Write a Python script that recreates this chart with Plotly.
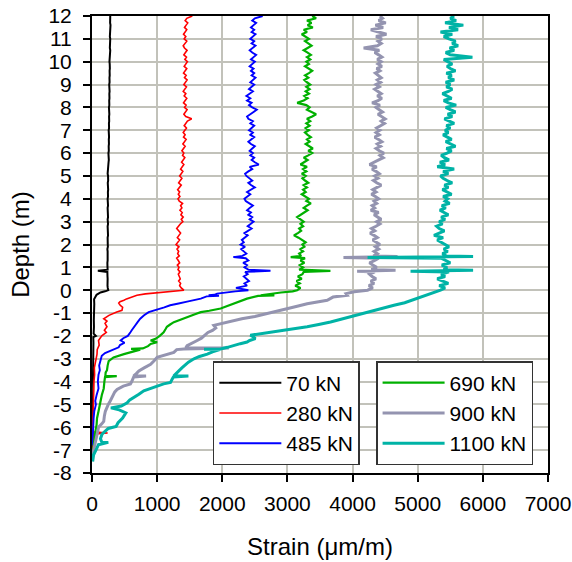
import plotly.graph_objects as go

# ---------------- data ----------------
series_names = ["70 kN", "280 kN", "485 kN", "690 kN", "900 kN", "1100 kN"]
series_colors = ["#000000", "#ff0000", "#0000ff", "#00b000", "#9494b0", "#00b3a6"]
series_widths = [2.0, 1.6, 1.9, 2.2, 3.0, 3.0]
series_legend = ["legend", "legend", "legend", "legend2", "legend2", "legend2"]

x_ticks = [0, 1000, 2000, 3000, 4000, 5000, 6000, 7000]
y_ticks = [-8, -7, -6, -5, -4, -3, -2, -1, 0, 1, 2, 3, 4, 5, 6, 7, 8, 9, 10, 11, 12]

# depth grid of the pile section above depth 0 (m)
depth_upper = [
    0.0, 0.1, 0.2, 0.3, 0.4, 0.5, 0.6, 0.7, 0.8, 0.9,
    1.0, 1.1, 1.2, 1.3, 1.4, 1.5, 1.6, 1.7, 1.8, 1.9,
    2.0, 2.1, 2.2, 2.3, 2.4, 2.5, 2.6, 2.7, 2.8, 2.9,
    3.0, 3.1, 3.2, 3.3, 3.4, 3.5, 3.6, 3.7, 3.8, 3.9,
    4.0, 4.1, 4.2, 4.3, 4.4, 4.5, 4.6, 4.7, 4.8, 4.9,
    5.0, 5.1, 5.2, 5.3, 5.4, 5.5, 5.6, 5.7, 5.8, 5.9,
    6.0, 6.1, 6.2, 6.3, 6.4, 6.5, 6.6, 6.7, 6.8, 6.9,
    7.0, 7.1, 7.2, 7.3, 7.4, 7.5, 7.6, 7.7, 7.8, 7.9,
    8.0, 8.1, 8.2, 8.3, 8.4, 8.5, 8.6, 8.7, 8.8, 8.9,
    9.0, 9.1, 9.2, 9.3, 9.4, 9.5, 9.6, 9.7, 9.8, 9.9,
    10.0, 10.1, 10.2, 10.3, 10.4, 10.5, 10.6, 10.7, 10.8, 10.9,
    11.0, 11.1, 11.2, 11.3, 11.4, 11.5, 11.6, 11.7, 11.8, 11.9,
    12.0,
]

strain_70_upper = [
    250, 242, 238, 240, 236, 240, 238, 242, 236, 240,
    238, 242, 236, 240, 244, 238, 242, 240, 236, 244,
    242, 238, 244, 240, 246, 242, 238, 244, 240, 246,
    244, 240, 246, 242, 248, 244, 240, 246, 250, 244,
    240, 246, 250, 244, 248, 252, 246, 242, 248, 252,
    246, 240, 248, 252, 256, 250, 254, 258, 262, 256,
    252, 258, 262, 256, 260, 264, 258, 262, 266, 260,
    256, 262, 266, 260, 264, 268, 262, 266, 270, 264,
    260, 266, 270, 264, 268, 272, 266, 270, 274, 268,
    264, 270, 274, 268, 272, 276, 270, 274, 278, 272,
    268, 274, 278, 272, 276, 280, 274, 278, 272, 276,
    280, 274, 278, 282, 276, 280, 284, 278, 282, 276,
    280,
]
strain_280_upper = [
    1410, 1370, 1345, 1360, 1330, 1355, 1340, 1325, 1350, 1320,
    1335, 1310, 1345, 1325, 1300, 1340, 1315, 1330, 1305, 1335,
    1290, 1320, 1345, 1310, 1335, 1360, 1330, 1300, 1320, 1355,
    1395, 1370, 1400, 1365, 1385, 1350, 1380, 1360, 1390, 1340,
    1320, 1350, 1325, 1345, 1315, 1340, 1370, 1330, 1355, 1380,
    1345, 1370, 1395, 1360, 1385, 1410, 1375, 1400, 1425, 1390,
    1410, 1380, 1405, 1430, 1395, 1420, 1445, 1405, 1430, 1400,
    1425, 1450, 1415, 1440, 1465, 1530, 1440, 1410, 1435, 1460,
    1420, 1445, 1405, 1430, 1455, 1415, 1440, 1400, 1425, 1450,
    1410, 1435, 1460, 1420, 1445, 1405, 1430, 1455, 1415, 1440,
    1465, 1425, 1450, 1410, 1435, 1460, 1420, 1400, 1430, 1455,
    1415, 1440, 1405, 1430, 1455, 1420, 1445, 1470, 1430, 1455,
    1540,
]
strain_485_upper = [
    2400, 2210, 2380, 2340, 2410, 2370, 2330, 2390, 2350, 2400,
    2340, 2380, 2320, 2400, 2360, 2310, 2370, 2330, 2290, 2350,
    2280, 2330, 2300, 2350, 2390, 2340, 2400, 2450, 2390, 2430,
    2480, 2420, 2460, 2400, 2440, 2380, 2420, 2470, 2410, 2360,
    2340, 2390, 2430, 2380, 2450, 2500, 2440, 2400, 2460, 2410,
    2370, 2350, 2400, 2460, 2420, 2560, 2500, 2450, 2490, 2430,
    2470, 2420, 2460, 2500, 2440, 2400, 2450, 2490, 2430, 2470,
    2410, 2450, 2490, 2430, 2470, 2400, 2380, 2430, 2480, 2530,
    2460, 2410, 2450, 2380, 2430, 2370, 2420, 2470, 2410, 2450,
    2490, 2430, 2470, 2510, 2450, 2490, 2440, 2480, 2420, 2460,
    2500, 2440, 2480, 2520, 2460, 2420, 2470, 2510, 2450, 2490,
    2430, 2470, 2510, 2450, 2490, 2440, 2480, 2520, 2460, 2500,
    2620,
]
strain_690_upper = [
    3150, 3200, 3120, 3190, 3140, 3220, 3160, 3230, 3250, 3180,
    3240, 3190, 3260, 3200, 3270, 3210, 3180, 3240, 3200, 3260,
    3230, 3280, 3220, 3170, 3100, 3160, 3210, 3180, 3240, 3200,
    3250, 3200, 3150, 3190, 3260, 3310, 3250, 3300, 3360, 3290,
    3330, 3270, 3220, 3280, 3240, 3300, 3250, 3320, 3270, 3230,
    3280, 3220, 3290, 3240, 3300, 3200, 3260, 3310, 3250, 3320,
    3380, 3320, 3390, 3330, 3280, 3340, 3300, 3360, 3310, 3270,
    3330, 3280, 3340, 3290, 3350, 3300, 3380, 3440, 3360, 3300,
    3340, 3290, 3150, 3250, 3310, 3260, 3330, 3280, 3340, 3290,
    3350, 3300, 3260, 3320, 3270, 3330, 3380, 3320, 3270, 3330,
    3290, 3350, 3300, 3360, 3310, 3250, 3310, 3370, 3320, 3270,
    3330, 3280, 3220, 3300, 3250, 3390, 3310, 3370, 3300, 3440,
    3380,
]
strain_900_upper = [
    4230, 4310, 4250, 4330, 4280, 4360, 4300, 4260, 4340, 4290,
    4370, 4310, 4260, 4340, 4400, 4320, 4380, 4330, 4400, 4350,
    4420, 4360, 4310, 4380, 4330, 4270, 4340, 4290, 4360, 4420,
    4370, 4440, 4390, 4330, 4400, 4280, 4340, 4300, 4370, 4330,
    4400, 4350, 4290, 4360, 4310, 4380, 4440, 4370, 4320, 4390,
    4340, 4410, 4360, 4300, 4370, 4260, 4330, 4400, 4470, 4420,
    4480, 4410, 4360, 4430, 4380, 4450, 4400, 4340, 4410, 4360,
    4420, 4370, 4430, 4490, 4440, 4500, 4450, 4390, 4460, 4410,
    4360, 4420, 4300, 4390, 4450, 4380, 4440, 4390, 4340, 4410,
    4360, 4430, 4380, 4440, 4400, 4350, 4420, 4370, 4450, 4390,
    4440, 4380, 4450, 4400, 4340, 4410, 4170, 4380, 4440, 4390,
    4450, 4360, 4520, 4400, 4280, 4470, 4350, 4510, 4400, 4460,
    4420,
]
strain_1100_upper = [
    5350, 5420, 5330, 5470, 5380, 5300, 5420, 5360, 5480, 5400,
    5450, 5370, 5500, 5420, 5360, 5440, 5380, 5460, 5400, 5480,
    5430, 5360, 5300, 5390, 5250, 5340, 5410, 5330, 5290, 5380,
    5330, 5420, 5360, 5470, 5400, 5340, 5430, 5370, 5490, 5420,
    5460, 5390, 5520, 5440, 5380, 5470, 5410, 5530, 5450, 5390,
    5350, 5470, 5390, 5560, 5300, 5420, 5340, 5480, 5410, 5360,
    5450, 5520, 5440, 5580, 5500, 5430, 5520, 5460, 5390, 5470,
    5420, 5500, 5440, 5560, 5480, 5410, 5530, 5460, 5580, 5500,
    5430, 5590, 5470, 5400, 5520, 5450, 5380, 5470, 5530, 5440,
    5500, 5430, 5560, 5470, 5520, 5440, 5580, 5500, 5450, 5530,
    5460, 5400, 5840, 5500, 5430, 5560, 5490, 5620, 5530, 5580,
    5480, 5400, 5530, 5350, 5620, 5480, 5700, 5420, 5590, 5500,
    5560,
]

# isolated spikes above depth 0 (depth m, strain)
spikes_70_depth = [0.85]
spikes_70_strain = [90]
spikes_280_depth = []
spikes_280_strain = []
spikes_485_depth = [0.85, 1.45]
spikes_485_strain = [2740, 2170]
spikes_690_depth = [0.85, 1.45]
spikes_690_strain = [3660, 3050]
spikes_900_depth = [0.83, 0.87, 1.43, 1.47]
spikes_900_strain = [4070, 4660, 3860, 4690]
spikes_1100_depth = [0.83, 0.87, 1.43, 1.47]
spikes_1100_strain = [4890, 5850, 4230, 5850]

# section below depth 0 (depth m, strain)
lower_70_depth = [-0.05, -0.1, -0.2, -0.3, -0.4, -0.6, -0.8, -1.0, -1.3, -1.6, -1.9, -2.0, -2.05,
                  -2.3, -2.8, -3.3, -3.8, -4.3, -4.8, -5.3, -5.8, -6.3, -6.8, -7.3]
lower_70_strain = [200, 130, 70, 45, 32, 35, 30, 32, 28, 30, 25, 60, 20,
                   22, 18, 20, 15, 18, 12, 15, 10, 12, 8, 10]

lower_280_depth = [-0.05, -0.1, -0.16, -0.22, -0.3, -0.38, -0.44, -0.5, -0.56, -0.65, -0.75, -0.88,
                   -0.95, -1.0, -1.1, -1.25, -1.35, -1.45, -1.6, -1.75, -1.85, -2.0, -2.1, -2.2,
                   -2.4, -2.6, -2.8, -3.0, -3.2, -3.4, -3.7, -4.0, -4.5, -5.0, -5.5, -6.0, -6.2,
                   -6.25, -6.3, -6.6, -7.0]
lower_280_strain = [1200, 1000, 820, 690, 600, 530, 490, 430, 410, 430, 470, 460,
                    380, 330, 260, 180, 230, 200, 230, 190, 220, 150, 120, 100,
                    110, 80, 77, 60, 50, 36, 40, 30, 25, 20, 15, 10, 20,
                    240, 15, 8, 5]

lower_485_depth = [-0.05, -0.1, -0.15, -0.2, -0.22, -0.24, -0.27, -0.37, -0.45, -0.5, -0.58, -0.66,
                   -0.75, -0.8, -0.9, -0.96, -1.1, -1.25, -1.4, -1.6, -1.75, -1.84, -2.0, -2.1,
                   -2.2, -2.3, -2.4, -2.5, -2.6, -2.65, -2.75, -2.87, -3.0, -3.1, -3.3, -3.5,
                   -3.7, -4.0, -4.3, -4.6, -4.85, -5.0, -5.3, -5.6, -6.0, -6.3, -6.8]
lower_485_strain = [2200, 2030, 1920, 1880, 1790, 1950, 1760, 1670, 1560, 1460, 1330, 1200,
                    1110, 1050, 920, 870, 800, 740, 700, 640, 610, 590, 550, 480,
                    440, 500, 430, 410, 330, 280, 200, 150, 140, 130, 110, 120,
                    100, 90, 100, 70, 50, 60, 35, 25, 15, 10, 5]

lower_690_depth = [-0.05, -0.1, -0.15, -0.2, -0.22, -0.23, -0.25, -0.37, -0.45, -0.59, -0.7, -0.8,
                   -0.9, -0.96, -1.05, -1.18, -1.3, -1.4, -1.5, -1.6, -1.7, -1.84, -2.0, -2.13,
                   -2.2, -2.28, -2.35, -2.45, -2.55, -2.57, -2.6, -2.7, -2.8, -2.94, -3.1, -3.3,
                   -3.5, -3.6, -3.75, -3.76, -3.8, -4.0, -4.3, -4.6, -5.0, -5.3, -5.6, -5.9,
                   -6.2, -6.5, -6.8, -7.2]
lower_690_strain = [3080, 2900, 2740, 2650, 2590, 2800, 2550, 2380, 2300, 2180, 2080, 1975,
                    1800, 1670, 1580, 1460, 1350, 1256, 1200, 1150, 1130, 1100, 1040, 975,
                    900, 1000, 900, 860, 780, 600, 740, 600, 490, 330, 256, 240,
                    230, 210, 205, 380, 200, 190, 180, 150, 128, 100, 77, 70,
                    51, 40, 25, 10]

lower_900_depth = [-0.07, -0.15, -0.22, -0.3, -0.44, -0.59, -0.7, -0.81, -0.9, -1.03, -1.15, -1.25,
                   -1.4, -1.54, -1.65, -1.76, -1.85, -2.0, -2.1, -2.2, -2.3, -2.43, -2.52, -2.53,
                   -2.57, -2.6, -2.72, -2.85, -2.94, -3.1, -3.24, -3.4, -3.53, -3.65, -3.75, -3.76,
                   -3.8, -4.0, -4.1, -4.2, -4.34, -4.45, -4.56, -4.7, -4.85, -5.0, -5.3, -5.5,
                   -5.74, -5.85, -6.0, -6.15, -6.3, -6.6, -6.9, -7.2]
lower_900_strain = [4025, 3900, 3918, 3700, 3610, 3303, 3150, 2995, 2850, 2687, 2500, 2300,
                    2050, 1870, 1900, 1850, 1780, 1720, 1680, 1615, 1540, 1460, 1440, 2100,
                    1410, 1300, 1256, 1100, 1000, 950, 900, 800, 720, 680, 640, 830,
                    640, 610, 590, 480, 385, 350, 333, 300, 280, 250, 205, 190,
                    180, 150, 100, 90, 77, 50, 25, 10]

lower_1100_depth = [-0.1, -0.22, -0.3, -0.44, -0.55, -0.66, -0.78, -0.88, -1.0, -1.17, -1.28, -1.39,
                    -1.5, -1.6, -1.75, -1.9, -1.97, -2.05, -2.12, -2.2, -2.27, -2.34, -2.43, -2.5,
                    -2.57, -2.58, -2.6, -2.7, -2.8, -2.9, -3.0, -3.15, -3.3, -3.4, -3.53, -3.65,
                    -3.75, -3.76, -3.8, -3.9, -4.04, -4.1, -4.2, -4.3, -4.4, -4.55, -4.7, -4.8,
                    -4.93, -5.07, -5.15, -5.22, -5.37, -5.6, -5.8, -5.96, -6.05, -6.2, -6.3, -6.5,
                    -6.65, -6.66, -6.76, -7.0, -7.2, -7.4, -7.5]
lower_1100_strain = [5250, 5149, 5050, 4944, 4800, 4636, 4480, 4328, 4150, 3969, 3800, 3662,
                     3480, 3303, 2944, 2585, 2431, 2480, 2508, 2420, 2380, 2277, 2180, 2080,
                     1975, 1720, 1960, 1850, 1770, 1650, 1565, 1480, 1410, 1380, 1333, 1290,
                     1256, 1480, 1250, 1230, 1205, 1100, 1000, 900, 795, 720, 640, 580,
                     540, 450, 290, 400, 520, 470, 400, 370, 250, 190, 154, 130,
                     150, 250, 100, 60, 25, 15, 10]

# ---------------- build profiles ----------------
uppers = [strain_70_upper, strain_280_upper, strain_485_upper,
          strain_690_upper, strain_900_upper, strain_1100_upper]
spike_d = [spikes_70_depth, spikes_280_depth, spikes_485_depth,
           spikes_690_depth, spikes_900_depth, spikes_1100_depth]
spike_s = [spikes_70_strain, spikes_280_strain, spikes_485_strain,
           spikes_690_strain, spikes_900_strain, spikes_1100_strain]
lower_d = [lower_70_depth, lower_280_depth, lower_485_depth,
           lower_690_depth, lower_900_depth, lower_1100_depth]
lower_s = [lower_70_strain, lower_280_strain, lower_485_strain,
           lower_690_strain, lower_900_strain, lower_1100_strain]

fig = go.Figure()
for i, name in enumerate(series_names):
    pts = list(zip(depth_upper, uppers[i])) + list(zip(spike_d[i], spike_s[i])) \
        + list(zip(lower_d[i], lower_s[i]))
    pts.sort(key=lambda p: -p[0])
    fig.add_trace(go.Scatter(
        x=[p[1] for p in pts], y=[p[0] for p in pts],
        mode="lines", name=name, legend=series_legend[i],
        line=dict(color=series_colors[i], width=series_widths[i]),
        hoverinfo="skip",
    ))

font_family = "Liberation Sans, Arial, sans-serif"
grid_color = "#c2c2ba"

legend_common = dict(
    xanchor="left", yanchor="top",
    bgcolor="white", bordercolor="#333333", borderwidth=1.5,
    font=dict(size=21), tracegroupgap=0, itemwidth=62,
)

fig.update_layout(
    width=572, height=562,
    margin=dict(l=92, r=24, t=16, b=89, autoexpand=False),
    paper_bgcolor="white", plot_bgcolor="white",
    font=dict(family=font_family, size=21, color="black"),
    showlegend=True,
    legend=dict(x=0.265, y=0.245, **legend_common),
    legend2=dict(x=0.623, y=0.245, **legend_common),
)

fig.update_xaxes(
    range=[0, 7000], tickvals=x_ticks, ticktext=[str(v) for v in x_ticks],
    showgrid=True, gridcolor=grid_color, gridwidth=1.6,
    showline=True, linecolor="black", linewidth=2, mirror=True,
    ticks="outside", ticklen=7, tickwidth=1.5, tickcolor="black",
    tickfont=dict(size=21), zeroline=False, ticklabelstandoff=4,
    automargin=False,
    title=dict(text="Strain (μm/m)", font=dict(size=24), standoff=24),
)
fig.update_yaxes(
    range=[-8, 12], tickvals=y_ticks, ticktext=[str(v) for v in y_ticks],
    showgrid=True, gridcolor=grid_color, gridwidth=1.6,
    showline=True, linecolor="black", linewidth=2, mirror=True,
    ticks="outside", ticklen=7, tickwidth=1.5, tickcolor="black",
    tickfont=dict(size=21), zeroline=False, ticklabelstandoff=7,
    automargin=False,
    title=dict(text="Depth (m)", font=dict(size=24), standoff=12),
)

fig.write_html("out.html", config={"displayModeBar": False})
